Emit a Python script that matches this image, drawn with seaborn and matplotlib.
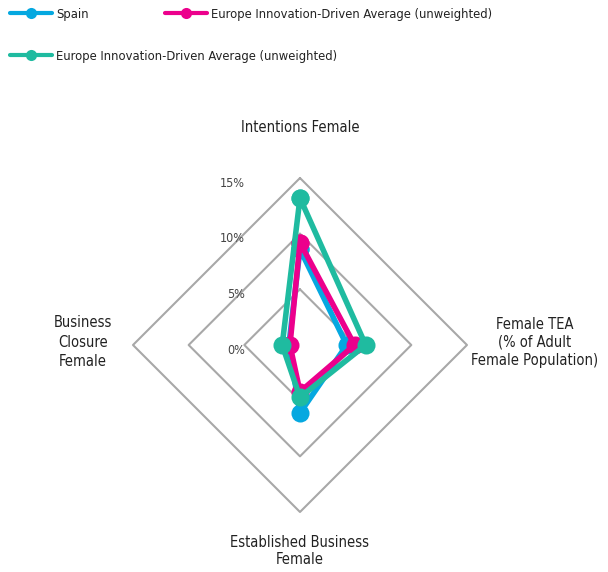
import numpy as np
import matplotlib.pyplot as plt
import seaborn as sns
from matplotlib.lines import Line2D

# Data (percent)
categories = ["Intentions Female",
              "Female TEA\n(% of Adult\nFemale Population)",
              "Established Business\nFemale",
              "Business\nClosure\nFemale"]
spain = [8.6, 4.2, 6.1, 1.0]
europe_pink = [9.2, 4.9, 4.2, 0.9]
europe_teal = [13.2, 5.9, 4.7, 1.6]
series_labels = ["Spain",
                 "Europe Innovation-Driven Average (unweighted)",
                 "Europe Innovation-Driven Average (unweighted)"]
levels = [0, 5, 10, 15]
level_labels = ["0%", "5%", "10%", "15%"]

colors = ["#05A8E0", "#EC008C", "#1FBBA0"]

sns.set_style("white")
plt.rcParams["font.family"] = ["DejaVu Sans"]
plt.rcParams["font.stretch"] = "condensed"

fig = plt.figure(figsize=(6.08, 5.72), dpi=100)
ax = fig.add_axes([0.21875, 0.1049, 0.5493, 0.5839], projection="polar")
ax.set_theta_zero_location("N")
ax.set_theta_direction(-1)

theta = np.linspace(0, 2 * np.pi, len(categories) + 1)

# diamond grid
for lv in levels[1:]:
    ax.plot(theta, [lv] * len(theta), color="#A8A8A8", lw=1.5, zorder=1,
            clip_on=False)

# series
for vals, lab, col in zip([spain, europe_pink, europe_teal], series_labels, colors):
    closed = list(vals) + [vals[0]]
    sns.lineplot(x=theta, y=closed, ax=ax, sort=False, estimator=None,
                 color=col, lw=4, marker="o", markersize=13,
                 markeredgewidth=0, zorder=3, clip_on=False, legend=False)

ax.set_ylim(0, 15)
ax.grid(False)
ax.set_xticks([])
ax.set_yticks([])
ax.set_xlabel("")
ax.set_ylabel("")
ax.spines["polar"].set_visible(False)

# radial labels
for lv, txt in zip(levels, level_labels):
    ax.annotate(txt, xy=(0, lv), xytext=(-55, -5), textcoords="offset pixels",
                ha="right", va="center", fontsize=9, color="#444444",
                annotation_clip=False)

# category labels
label_r = [19.5, 21.1, 18.5, 19.5]
label_ls = [1.0, 1.25, 1.1, 1.4]
label_dy = [0, 3, 0, 3]
for t, cat, r, ls, dy in zip(theta[:-1], categories, label_r, label_ls, label_dy):
    ax.annotate(cat, xy=(t, r), xytext=(0, dy), textcoords="offset pixels",
                ha="center", va="center", fontsize=10.5, color="#222222",
                linespacing=ls, annotation_clip=False)

# legend, one box per entry
handles = [Line2D([0], [0], color=c, lw=3, marker="o", markersize=8,
                  markeredgewidth=0) for c in colors]
legend_pos = [(10, 8), (165, 8), (10, 50)]
for h, lab, (px, py) in zip(handles, series_labels, legend_pos):
    leg = fig.legend([h], [lab], loc="upper left",
                     bbox_to_anchor=(px / 608, 1 - py / 572), frameon=False,
                     fontsize=9.3, handlelength=3.25, handletextpad=0.3,
                     borderpad=0, borderaxespad=0)
    for t in leg.get_texts():
        t.set_color("#222222")

fig.savefig("out.png", dpi=100)
